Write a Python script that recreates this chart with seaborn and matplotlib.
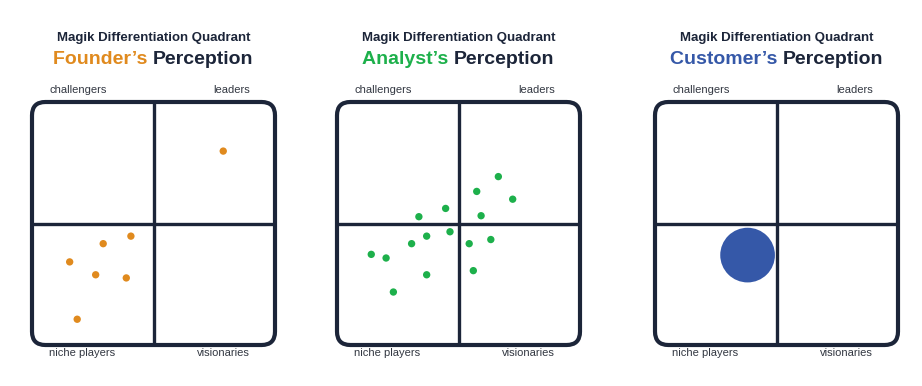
import matplotlib
matplotlib.use("Agg")
import matplotlib.pyplot as plt
from matplotlib.patches import FancyBboxPatch
import seaborn as sns
import pandas as pd

sns.set_style("white")
plt.rcParams["font.family"] = ["Liberation Sans", "DejaVu Sans"]

NAVY = "#1c2539"
LABEL = "#333842"

# --- data (quadrant scale 0-10, split at 5) ---
panel_words = ["Founder’s", "Analyst’s", "Customer’s"]
panel_colors = ["#e08a1e", "#1db04b", "#3558a8"]

founder_x = [7.87, 4.07, 2.93, 1.55, 2.62, 3.88, 1.86]
founder_y = [7.98, 4.48, 4.17, 3.42, 2.89, 2.76, 1.06]

analyst_x = [6.64, 5.75, 7.23, 4.47, 3.37, 5.93, 4.65, 3.69, 3.07, 5.44,
             6.33, 1.41, 2.02, 3.69, 5.61, 2.32]
analyst_y = [6.93, 6.32, 6.00, 5.62, 5.28, 5.32, 4.66, 4.48, 4.17, 4.17,
             4.34, 3.73, 3.58, 2.89, 3.06, 2.18]

customer_x = [3.81]
customer_y = [3.70]

quadrant_labels = ["challengers", "leaders", "niche players", "visionaries"]

panels = [
    pd.DataFrame({"x": founder_x, "y": founder_y}),
    pd.DataFrame({"x": analyst_x, "y": analyst_y}),
    pd.DataFrame({"x": customer_x, "y": customer_y}),
]
dot_sizes = [28, 28, 1550]

W, H = 922, 386
fig = plt.figure(figsize=(W / 100, H / 100), dpi=100)
box_lefts = [32, 337, 655]
box = 243
box_bottom = 345

renderer = fig.canvas.get_renderer()

for i, df in enumerate(panels):
    left = box_lefts[i]
    ax = fig.add_axes([left / W, (H - box_bottom) / H, box / W, box / H])
    ax.set_xlim(0, 10)
    ax.set_ylim(0, 10)
    ax.axis("off")

    frame = FancyBboxPatch((0, 0), 10, 10, boxstyle="round,pad=0,rounding_size=0.55",
                           fill=False, edgecolor=NAVY, linewidth=3.0, clip_on=False)
    ax.add_patch(frame)
    ax.plot([5, 5], [0, 10], color=NAVY, lw=2.4, solid_capstyle="butt")
    ax.plot([0, 10], [5, 5], color=NAVY, lw=2.4, solid_capstyle="butt")

    sns.scatterplot(data=df, x="x", y="y", ax=ax, color=panel_colors[i],
                    s=dot_sizes[i], edgecolor="none", legend=False, zorder=3)

    # corner labels
    top_y = (H - 90) / H
    bot_y = (H - 353.5) / H
    lx = (left + 17) / W
    rx = (left + box - 25) / W
    fig.text(lx, top_y, quadrant_labels[0], ha="left", va="center", fontsize=8, color=LABEL)
    fig.text(rx, top_y, quadrant_labels[1], ha="right", va="center", fontsize=8, color=LABEL)
    fig.text(lx, bot_y, quadrant_labels[2], ha="left", va="center", fontsize=8, color=LABEL)
    fig.text(rx, bot_y, quadrant_labels[3], ha="right", va="center", fontsize=8, color=LABEL)

    # titles
    cx = (left + box / 2) / W
    fig.text(cx, (H - 38) / H, "Magik Differentiation Quadrant", ha="center", va="center",
             fontsize=9.5, fontweight="bold", color=NAVY)
    t1 = fig.text(0, (H - 60) / H, panel_words[i] + " ", ha="left", va="center",
                  fontsize=14, fontweight="bold", color=panel_colors[i])
    t2 = fig.text(0, (H - 60) / H, "Perception", ha="left", va="center",
                  fontsize=14, fontweight="bold", color=NAVY)
    w1 = t1.get_window_extent(renderer).width
    w2 = t2.get_window_extent(renderer).width
    start = left + box / 2 - (w1 + w2) / 2
    t1.set_x(start / W)
    t2.set_x((start + w1) / W)

fig.savefig("out.png", dpi=100)
